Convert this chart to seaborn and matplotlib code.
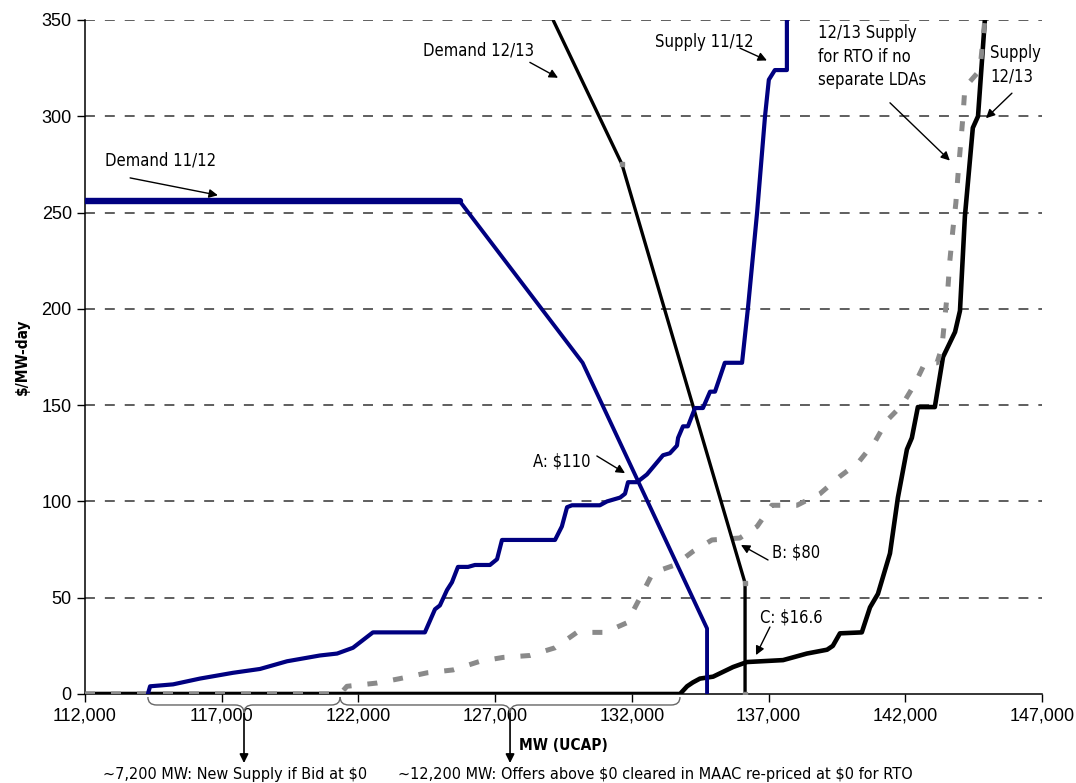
import matplotlib
matplotlib.use("Agg")
import matplotlib.pyplot as plt
import seaborn as sns
from matplotlib import font_manager as fm
from matplotlib.transforms import blended_transform_factory
from matplotlib.path import Path
from matplotlib.patches import PathPatch
from matplotlib.ticker import FuncFormatter

# ---------------- data ----------------
demand_1112_mw = [112000, 125700, 130200, 134750, 134750]
demand_1112_price = [256, 256, 172, 34, 0]

demand_1213_mw = [129120, 131640, 136140, 136140]
demand_1213_price = [350, 275, 57.6, 0]

supply_1112_mw = [114300, 114380, 115220, 116200, 117410, 118400, 119390, 120590, 121220,
                  121800, 122530, 124430, 124800, 124980, 125240, 125420, 125640, 126010,
                  126260, 126810, 127070, 127250, 129190, 129440, 129630, 129810, 130830,
                  131090, 131570, 131750, 131860, 132190, 132550, 133140, 133390, 133650,
                  133690, 133870, 134050, 134310, 134600, 134860, 135040, 135400, 136030,
                  136250, 136580, 136870, 137010, 137230, 137670, 137670]
supply_1112_price = [0, 4, 5, 8, 11, 13, 17, 20, 21,
                     24, 32, 32, 44, 46, 54, 58, 66, 66,
                     67, 67, 70, 80, 80, 87, 97, 98, 98,
                     100, 102, 104, 110, 110, 114, 124, 125, 129,
                     133, 139, 139, 148.5, 148.5, 157, 157, 172, 172,
                     201, 250, 300, 319, 324, 324, 360]

supply_1213_mw = [112000, 133760, 134020, 134230, 134490, 134970, 135700, 136210, 137530,
                  137890, 138400, 139140, 139350, 139610, 140410, 140710, 141000, 141440,
                  141730, 142060, 142240, 142460, 143080, 143380, 143820, 144000, 144180,
                  144470, 144660, 144910]
supply_1213_price = [0, 0, 4, 6, 8, 9, 14, 16.6, 17.6,
                     19, 21, 23, 25, 31.5, 32, 45, 52, 73,
                     102, 127, 133, 149, 149, 175, 188, 199, 248,
                     294, 300, 350]

supply_rto_mw = [112000, 121330, 121580, 122680, 123520, 124510, 125460, 126450, 127290,
                 128270, 129190, 129990, 131020, 131820, 132300, 132770, 133580, 134230,
                 134930, 135950, 136580, 137120, 138040, 138880, 139610, 140270, 140890,
                 141330, 141880, 142350, 142720, 143160, 143340, 143450, 143560, 143630,
                 143740, 143850, 143930, 144110, 144180, 144730, 144910]
supply_rto_price = [0, 0, 4, 5.7, 8, 11, 12.5, 17, 19,
                    20, 24, 32, 32, 37, 50, 63, 67, 74,
                    80, 81, 87, 98, 98, 104, 113, 120, 131,
                    142, 150, 161, 172, 172, 180, 196, 211, 225,
                    241, 255, 270, 300, 315, 324, 350]

x_ticks = [112000, 117000, 122000, 127000, 132000, 137000, 142000, 147000]
y_ticks = [0, 50, 100, 150, 200, 250, 300, 350]

# ---------------- fonts ----------------
sns.set_theme(style="ticks")
names = {f.name for f in fm.fontManager.ttflist}
if "Liberation Sans Narrow" in names:
    NARROW = dict(family="Liberation Sans Narrow")
    nscale = 1.0
elif "DejaVu Sans Condensed" in names:
    NARROW = dict(family="DejaVu Sans Condensed")
    nscale = 0.85
else:
    NARROW = dict(family="DejaVu Sans", stretch="condensed")
    nscale = 0.85
REG = "Liberation Sans" if "Liberation Sans" in names else "DejaVu Sans"
plt.rcParams["font.family"] = [REG, "DejaVu Sans"]
plt.rcParams["text.parse_math"] = False

NAVY = "#000080"
GRAY = "#8a8a8a"

fig = plt.figure(figsize=(10.76, 7.83), dpi=100)
ax = fig.add_axes([85 / 1076, 89 / 783, 957 / 1076, 674 / 783])
ax.set_facecolor("white")

# grid
for yv in y_ticks[1:]:
    ax.axhline(yv, color="#333333", lw=1.1, dashes=(6.5, 6.5), zorder=1)

sns.lineplot(x=supply_1213_mw, y=supply_1213_price, sort=False, estimator=None,
             color="black", lw=3.3, ax=ax, zorder=3)
sns.lineplot(x=supply_rto_mw, y=supply_rto_price, sort=False, estimator=None,
             color=GRAY, lw=3.6, linestyle=(0, (2.0, 3.2)), ax=ax, zorder=4)
sns.lineplot(x=demand_1213_mw, y=demand_1213_price, sort=False, estimator=None,
             color="black", lw=2.4, ax=ax, zorder=5)
ax.plot(demand_1213_mw[1:], demand_1213_price[1:], ls="none", marker="s",
        ms=3.5, color=GRAY, mec=GRAY, zorder=6)
sns.lineplot(x=supply_1112_mw, y=supply_1112_price, sort=False, estimator=None,
             color=NAVY, lw=3.0, ax=ax, zorder=5)
sns.lineplot(x=demand_1112_mw[:2], y=demand_1112_price[:2], sort=False, estimator=None,
             color=NAVY, lw=4.6, ax=ax, zorder=5)
sns.lineplot(x=demand_1112_mw[1:], y=demand_1112_price[1:], sort=False, estimator=None,
             color=NAVY, lw=2.8, ax=ax, zorder=5)

ax.set_xlim(112000, 147000)
ax.set_ylim(0, 350)
ax.set_xticks(x_ticks)
ax.set_yticks(y_ticks)
ax.xaxis.set_major_formatter(FuncFormatter(lambda v, p: f"{int(v):,}"))
for s in ["top", "right"]:
    ax.spines[s].set_visible(False)
for s in ["left", "bottom"]:
    ax.spines[s].set_color("black")
    ax.spines[s].set_linewidth(1.1)
    ax.spines[s].set_zorder(2)
ax.tick_params(axis="both", direction="out", length=5.5, width=1.0, color="black",
               labelsize=13, labelcolor="black", pad=4)
for lab in ax.get_xticklabels() + ax.get_yticklabels():
    lab.set_family([REG, "DejaVu Sans"])

ax.set_xlabel("MW (UCAP)", fontsize=13 * nscale, fontweight="bold", color="black", **NARROW)
ax.xaxis.set_label_coords(0.5, -0.066)
ax.set_ylabel("$/MW-day", fontsize=13 * nscale, fontweight="bold", color="black", **NARROW)
ax.yaxis.set_label_coords(-0.058, 0.5)

# ---------------- annotations ----------------
fs = 14 * nscale
arrow = dict(arrowstyle="-|>", color="black", lw=1.0, shrinkA=0, shrinkB=0,
             mutation_scale=13)

def note(text, txy, tail, head, va="center"):
    ax.text(txy[0], txy[1], text, fontsize=fs, color="black", ha="left", va=va,
            linespacing=1.4, zorder=8, **NARROW)
    ax.annotate("", xy=head, xytext=tail, arrowprops=arrow, zorder=8)

note("Demand 11/12", (112730, 277), (113650, 268), (116860, 259))
note("Demand 12/13", (124360, 334), (128270, 328), (129300, 320))
note("Supply 11/12", (132840, 338.5), (135950, 335.4), (136940, 329))
note("12/13 Supply\nfor RTO if no\nseparate LDAs", (138810, 331), (141440, 307), (143630, 277))
note("Supply\n12/13", (145100, 326.6), (145900, 312), (144950, 299))
note("A: $110", (128380, 120.5), (130720, 123.6), (131750, 114.7))
note("B: $80", (137120, 73.7), (136980, 69.6), (135990, 77.4))
note("C: $16.6", (136690, 39.5), (137050, 34.8), (136540, 20.2))

# ---------------- braces below axis ----------------
trans = blended_transform_factory(ax.transData, ax.transAxes)
yt, yh, ytip, yarr = -0.0045, -0.0163, -0.0282, -0.1024
r = 320

def brace(x0, x1):
    xm = (x0 + x1) / 2
    verts = [(x0, yt), (x0, yh), (x0 + r, yh), (xm - r, yh), (xm, yh), (xm, ytip),
             (xm, yh), (xm + r, yh), (x1 - r, yh), (x1, yh), (x1, yt)]
    codes = [Path.MOVETO, Path.CURVE3, Path.CURVE3, Path.LINETO, Path.CURVE3, Path.CURVE3,
             Path.CURVE3, Path.CURVE3, Path.LINETO, Path.CURVE3, Path.CURVE3]
    ax.add_patch(PathPatch(Path(verts, codes), fill=False, edgecolor="#666666", lw=1.0,
                           transform=trans, clip_on=False, zorder=7))
    ax.annotate("", xy=(xm, yarr), xytext=(xm, ytip), xycoords=trans, textcoords=trans,
                arrowprops=dict(arrowstyle="-|>", color="black", lw=1.2, shrinkA=0,
                                shrinkB=0, mutation_scale=13), annotation_clip=False)

brace(supply_1112_mw[0], supply_rto_mw[1])
brace(supply_rto_mw[1], supply_1213_mw[1])

bfs = 13.7 * nscale
ax.text(112660, -0.1187, "~7,200 MW: New Supply if Bid at $0", transform=trans,
        fontsize=bfs, ha="left", va="center", color="black", clip_on=False, **NARROW)
ax.text(123450, -0.1187, "~12,200 MW: Offers above $0 cleared in MAAC re-priced at $0 for RTO",
        transform=trans, fontsize=bfs, ha="left", va="center", color="black",
        clip_on=False, **NARROW)

fig.savefig("out.png", dpi=100, facecolor="white")
